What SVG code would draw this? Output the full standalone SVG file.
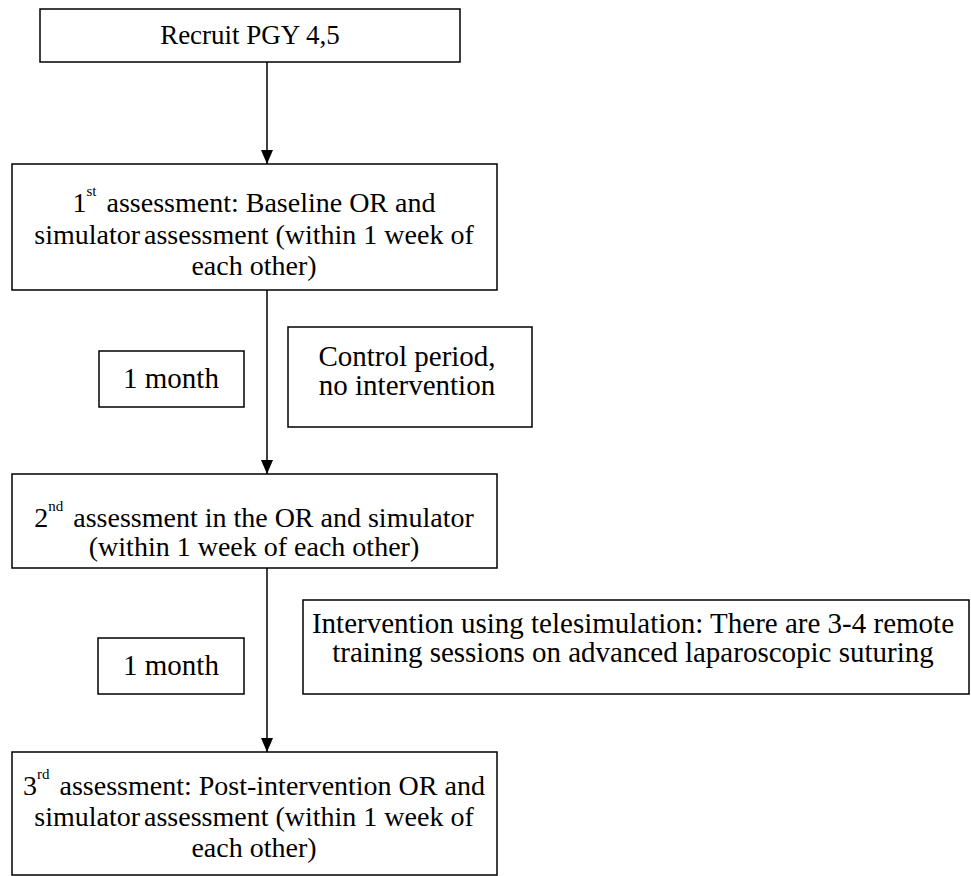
<svg xmlns="http://www.w3.org/2000/svg" width="971" height="876" viewBox="0 0 971 876">
<style>
.box{fill:#fff;stroke:#000;stroke-width:1.5}
.t{font-family:"Liberation Serif","Times New Roman",serif;font-size:29px;fill:#000;text-anchor:middle}
.a{font-size:28px}
.sup{font-size:15px}
.c{stroke:#000;stroke-width:1.5;fill:none}
</style>
<defs>
<marker id="ah" markerWidth="14" markerHeight="12" refX="14" refY="6" orient="auto" markerUnits="userSpaceOnUse" viewBox="0 0 14 12">
<path d="M0,0 L14,6 L0,12 Z" fill="#000"/>
</marker>
</defs>
<rect width="971" height="876" fill="#fff"/>
<g id="connectors">
<line class="c" x1="267" y1="62" x2="267" y2="164" marker-end="url(#ah)"/>
<line class="c" x1="267" y1="290" x2="267" y2="474" marker-end="url(#ah)"/>
<line class="c" x1="267" y1="568" x2="267" y2="752" marker-end="url(#ah)"/>
</g>
<g id="recruit">
<rect class="box" x="40" y="9" width="420" height="53"/>
<text class="t" x="250" y="44" style="font-size:27px">Recruit PGY 4,5</text>
</g>
<g id="assess1">
<rect class="box" x="12" y="164" width="485" height="126"/>
<text class="t a" x="254" y="212">1<tspan class="sup" dy="-16">st</tspan><tspan dx="10" dy="16">assessment: Baseline OR and</tspan></text>
<text class="t a" x="254" y="244">simulator<tspan dx="-3"> assessment (within 1 week of</tspan></text>
<text class="t a" x="254" y="275">each other)</text>
</g>
<g id="month1">
<rect class="box" x="99" y="351" width="145" height="56"/>
<text class="t" x="171" y="388">1 month</text>
</g>
<g id="control">
<rect class="box" x="288" y="327" width="244" height="100"/>
<text class="t" x="407" y="366">Control period,<tspan x="407" dy="29">no intervention</tspan></text>
</g>
<g id="assess2">
<rect class="box" x="12" y="474" width="485" height="94"/>
<text class="t a" x="254" y="527">2<tspan class="sup" dy="-16">nd</tspan><tspan dx="10" dy="16">assessment in the OR and simulator</tspan></text>
<text class="t a" x="254" y="556">(within 1 week of each other)</text>
</g>
<g id="month2">
<rect class="box" x="98" y="638" width="146" height="56"/>
<text class="t" x="171" y="675">1 month</text>
</g>
<g id="intervention">
<rect class="box" x="303" y="600" width="666" height="94"/>
<text class="t" x="633" y="633">Intervention using telesimulation: There are 3-4 remote<tspan x="633" dy="29">training sessions on advanced laparoscopic suturing</tspan></text>
</g>
<g id="assess3">
<rect class="box" x="12" y="752" width="485" height="123"/>
<text class="t a" x="254" y="795">3<tspan class="sup" dy="-16">rd</tspan><tspan dx="10" dy="16">assessment: Post-intervention OR and</tspan></text>
<text class="t a" x="254" y="826">simulator<tspan dx="-3"> assessment (within 1 week of</tspan></text>
<text class="t a" x="254" y="857">each other)</text>
</g>
</svg>
